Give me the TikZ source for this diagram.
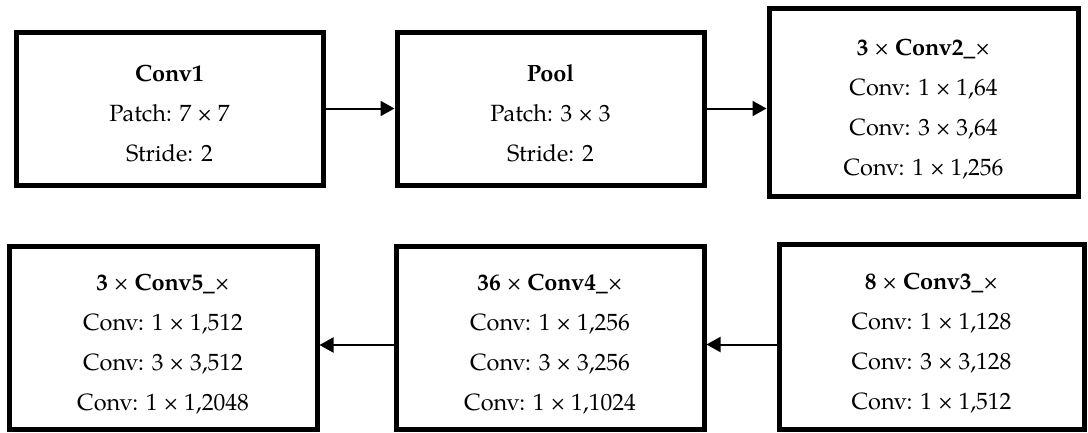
\documentclass[tikz,border=0pt]{standalone}
\usepackage{fontspec}
\setmainfont{TeX Gyre Pagella}
\usetikzlibrary{arrows.meta}
\tikzset{
  box/.style={draw=black, line width=5pt, fill=white, inner sep=0pt, outer sep=2.5pt, rectangle},
  txt/.style={align=center, inner sep=0pt, font=\fontsize{23.5}{40}\selectfont},
  arr/.style={line width=2pt, -{Triangle[length=14pt,width=15pt]}}
}
\begin{document}
\begin{tikzpicture}[x=1pt,y=-1pt]
\useasboundingbox (0,0) rectangle (1088,432);
% row 1
\node[box, minimum width=307pt, minimum height=153pt] (conv1) at (169.5,108.5) {};
\node[box, minimum width=307pt, minimum height=153pt] (pool) at (550.5,108.5) {};
\node[box, minimum width=309pt, minimum height=188pt] (conv2) at (923.5,102) {};
% row 2
\node[box, minimum width=308pt, minimum height=183pt] (conv5) at (163,337.5) {};
\node[box, minimum width=308pt, minimum height=183pt] (conv4) at (550,337.5) {};
\node[box, minimum width=305pt, minimum height=185pt] (conv3) at (931.5,336.5) {};
% texts
\node[txt] (t1) at ([yshift=-5pt]conv1.center) {\textbf{Conv1}\\Patch: 7 × 7\\Stride: 2};
\node[txt] (t2) at ([yshift=-5pt]pool.center) {\textbf{Pool}\\Patch: 3 × 3\\Stride: 2};
\node[txt] (t3) at ([yshift=-7pt]conv2.center) {\textbf{3} × \textbf{Conv2\_}×\\Conv: 1 × 1,64\\Conv: 3 × 3,64\\Conv: 1 × 1,256};
\node[txt] (t6) at ([yshift=-7pt]conv3.center) {\textbf{8} × \textbf{Conv3\_}×\\Conv: 1 × 1,128\\Conv: 3 × 3,128\\Conv: 1 × 1,512};
\node[txt] (t5) at ([yshift=-7pt]conv4.center) {\textbf{36} × \textbf{Conv4\_}×\\Conv: 1 × 1,256\\Conv: 3 × 3,256\\Conv: 1 × 1,1024};
\node[txt] (t4) at ([yshift=-7pt]conv5.center) {\textbf{3} × \textbf{Conv5\_}×\\Conv: 1 × 1,512\\Conv: 3 × 3,512\\Conv: 1 × 1,2048};
% arrows
\draw[arr] (conv1.east) -- (pool.west);
\draw[arr] (pool.east) -- (pool.east -| conv2.west);
\draw[arr] ([yshift=-8pt]conv3.west) -- ([yshift=-8pt]conv3.west -| conv4.east);
\draw[arr] ([yshift=-7.5pt]conv4.west) -- ([yshift=-7.5pt]conv4.west -| conv5.east);
\end{tikzpicture}
\end{document}
